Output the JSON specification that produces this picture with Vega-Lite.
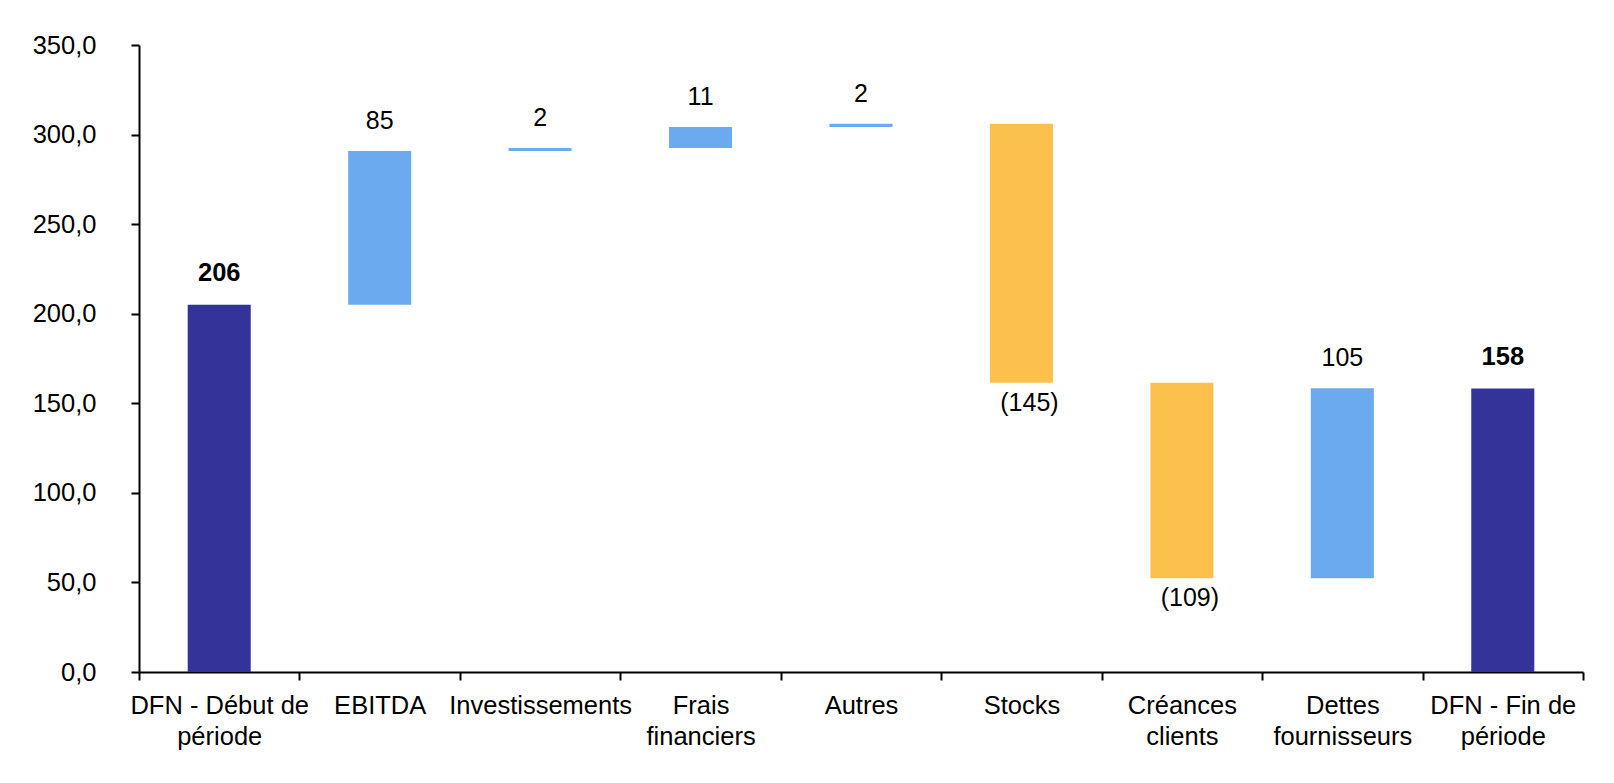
{
  "$schema": "https://vega.github.io/schema/vega-lite/v6.json",
  "autosize": {"type": "none"},
  "width": 1444,
  "height": 627,
  "padding": {"left": 139, "top": 45, "right": 31, "bottom": 111},
  "background": "white",
  "config": {
    "view": {"stroke": null},
    "font": "Liberation Sans",
    "axis": {"labelFont": "Liberation Sans", "labelFontSize": 25.5, "labelLimit": 400, "labelColor": "black", "domainColor": "black", "tickColor": "black", "domainWidth": 2, "tickWidth": 2, "tickSize": 8, "grid": false, "title": null}
  },
  "data": {
    "values": [
      {"cat": "DFN - Début de période", "start": 0, "end": 205, "label": "206", "kind": "total"},
      {"cat": "EBITDA", "start": 205, "end": 290.8, "label": "85", "kind": "pos"},
      {"cat": "Investissements", "start": 290.8, "end": 292.5, "label": "2", "kind": "pos"},
      {"cat": "Frais financiers", "start": 292.5, "end": 304.2, "label": "11", "kind": "pos"},
      {"cat": "Autres", "start": 304.2, "end": 306, "label": "2", "kind": "pos"},
      {"cat": "Stocks", "start": 306, "end": 161.5, "label": "(145)", "kind": "neg"},
      {"cat": "Créances clients", "start": 161.5, "end": 52.3, "label": "(109)", "kind": "neg"},
      {"cat": "Dettes fournisseurs", "start": 52.3, "end": 158.4, "label": "105", "kind": "pos"},
      {"cat": "DFN - Fin de période", "start": 0, "end": 158.2, "label": "158", "kind": "total"}
    ]
  },
  "encoding": {
    "x": {
      "field": "cat", "type": "nominal", "sort": null,
      "scale": {"paddingInner": 0, "paddingOuter": 0},
      "axis": {
        "labelAngle": 0, "tickBand": "extent", "labelPadding": 13, "labelLineHeight": 31, "labelBaseline": "top",
        "labelExpr": "datum.label == 'DFN - Début de période' ? ['DFN - Début de', 'période'] : datum.label == 'Frais financiers' ? ['Frais', 'financiers'] : datum.label == 'Créances clients' ? ['Créances', 'clients'] : datum.label == 'Dettes fournisseurs' ? ['Dettes', 'fournisseurs'] : datum.label == 'DFN - Fin de période' ? ['DFN - Fin de', 'période'] : datum.label"
      }
    }
  },
  "layer": [
    {
      "mark": {"type": "bar", "width": {"band": 0.393}},
      "encoding": {
        "y": {
          "field": "start", "type": "quantitative",
          "scale": {"domain": [0, 350], "nice": false, "zero": true},
          "axis": {"values": [0, 50, 100, 150, 200, 250, 300, 350], "labelPadding": 35, "labelExpr": "replace(format(datum.value, '.1f'), '.', ',')"}
        },
        "y2": {"field": "end"},
        "color": {
          "field": "kind", "type": "nominal", "legend": null,
          "scale": {"domain": ["total", "pos", "neg"], "range": ["#333399", "#6BAAEE", "#FCC14C"]}
        }
      }
    },
    {
      "transform": [{"filter": "datum.kind == 'total'"}],
      "mark": {"type": "text", "fontSize": 25.5, "fontWeight": "bold", "baseline": "alphabetic", "dy": -24, "color": "black"},
      "encoding": {"y": {"field": "end", "type": "quantitative"}, "text": {"field": "label"}}
    },
    {
      "transform": [{"filter": "datum.kind == 'pos'"}],
      "mark": {"type": "text", "fontSize": 25, "baseline": "alphabetic", "dy": -22, "color": "black"},
      "encoding": {"y": {"field": "end", "type": "quantitative"}, "text": {"field": "label"}}
    },
    {
      "transform": [{"filter": "datum.kind == 'neg'"}],
      "mark": {"type": "text", "fontSize": 25, "baseline": "top", "dy": 8, "dx": 8, "color": "black"},
      "encoding": {"y": {"field": "end", "type": "quantitative"}, "text": {"field": "label"}}
    }
  ]
}
